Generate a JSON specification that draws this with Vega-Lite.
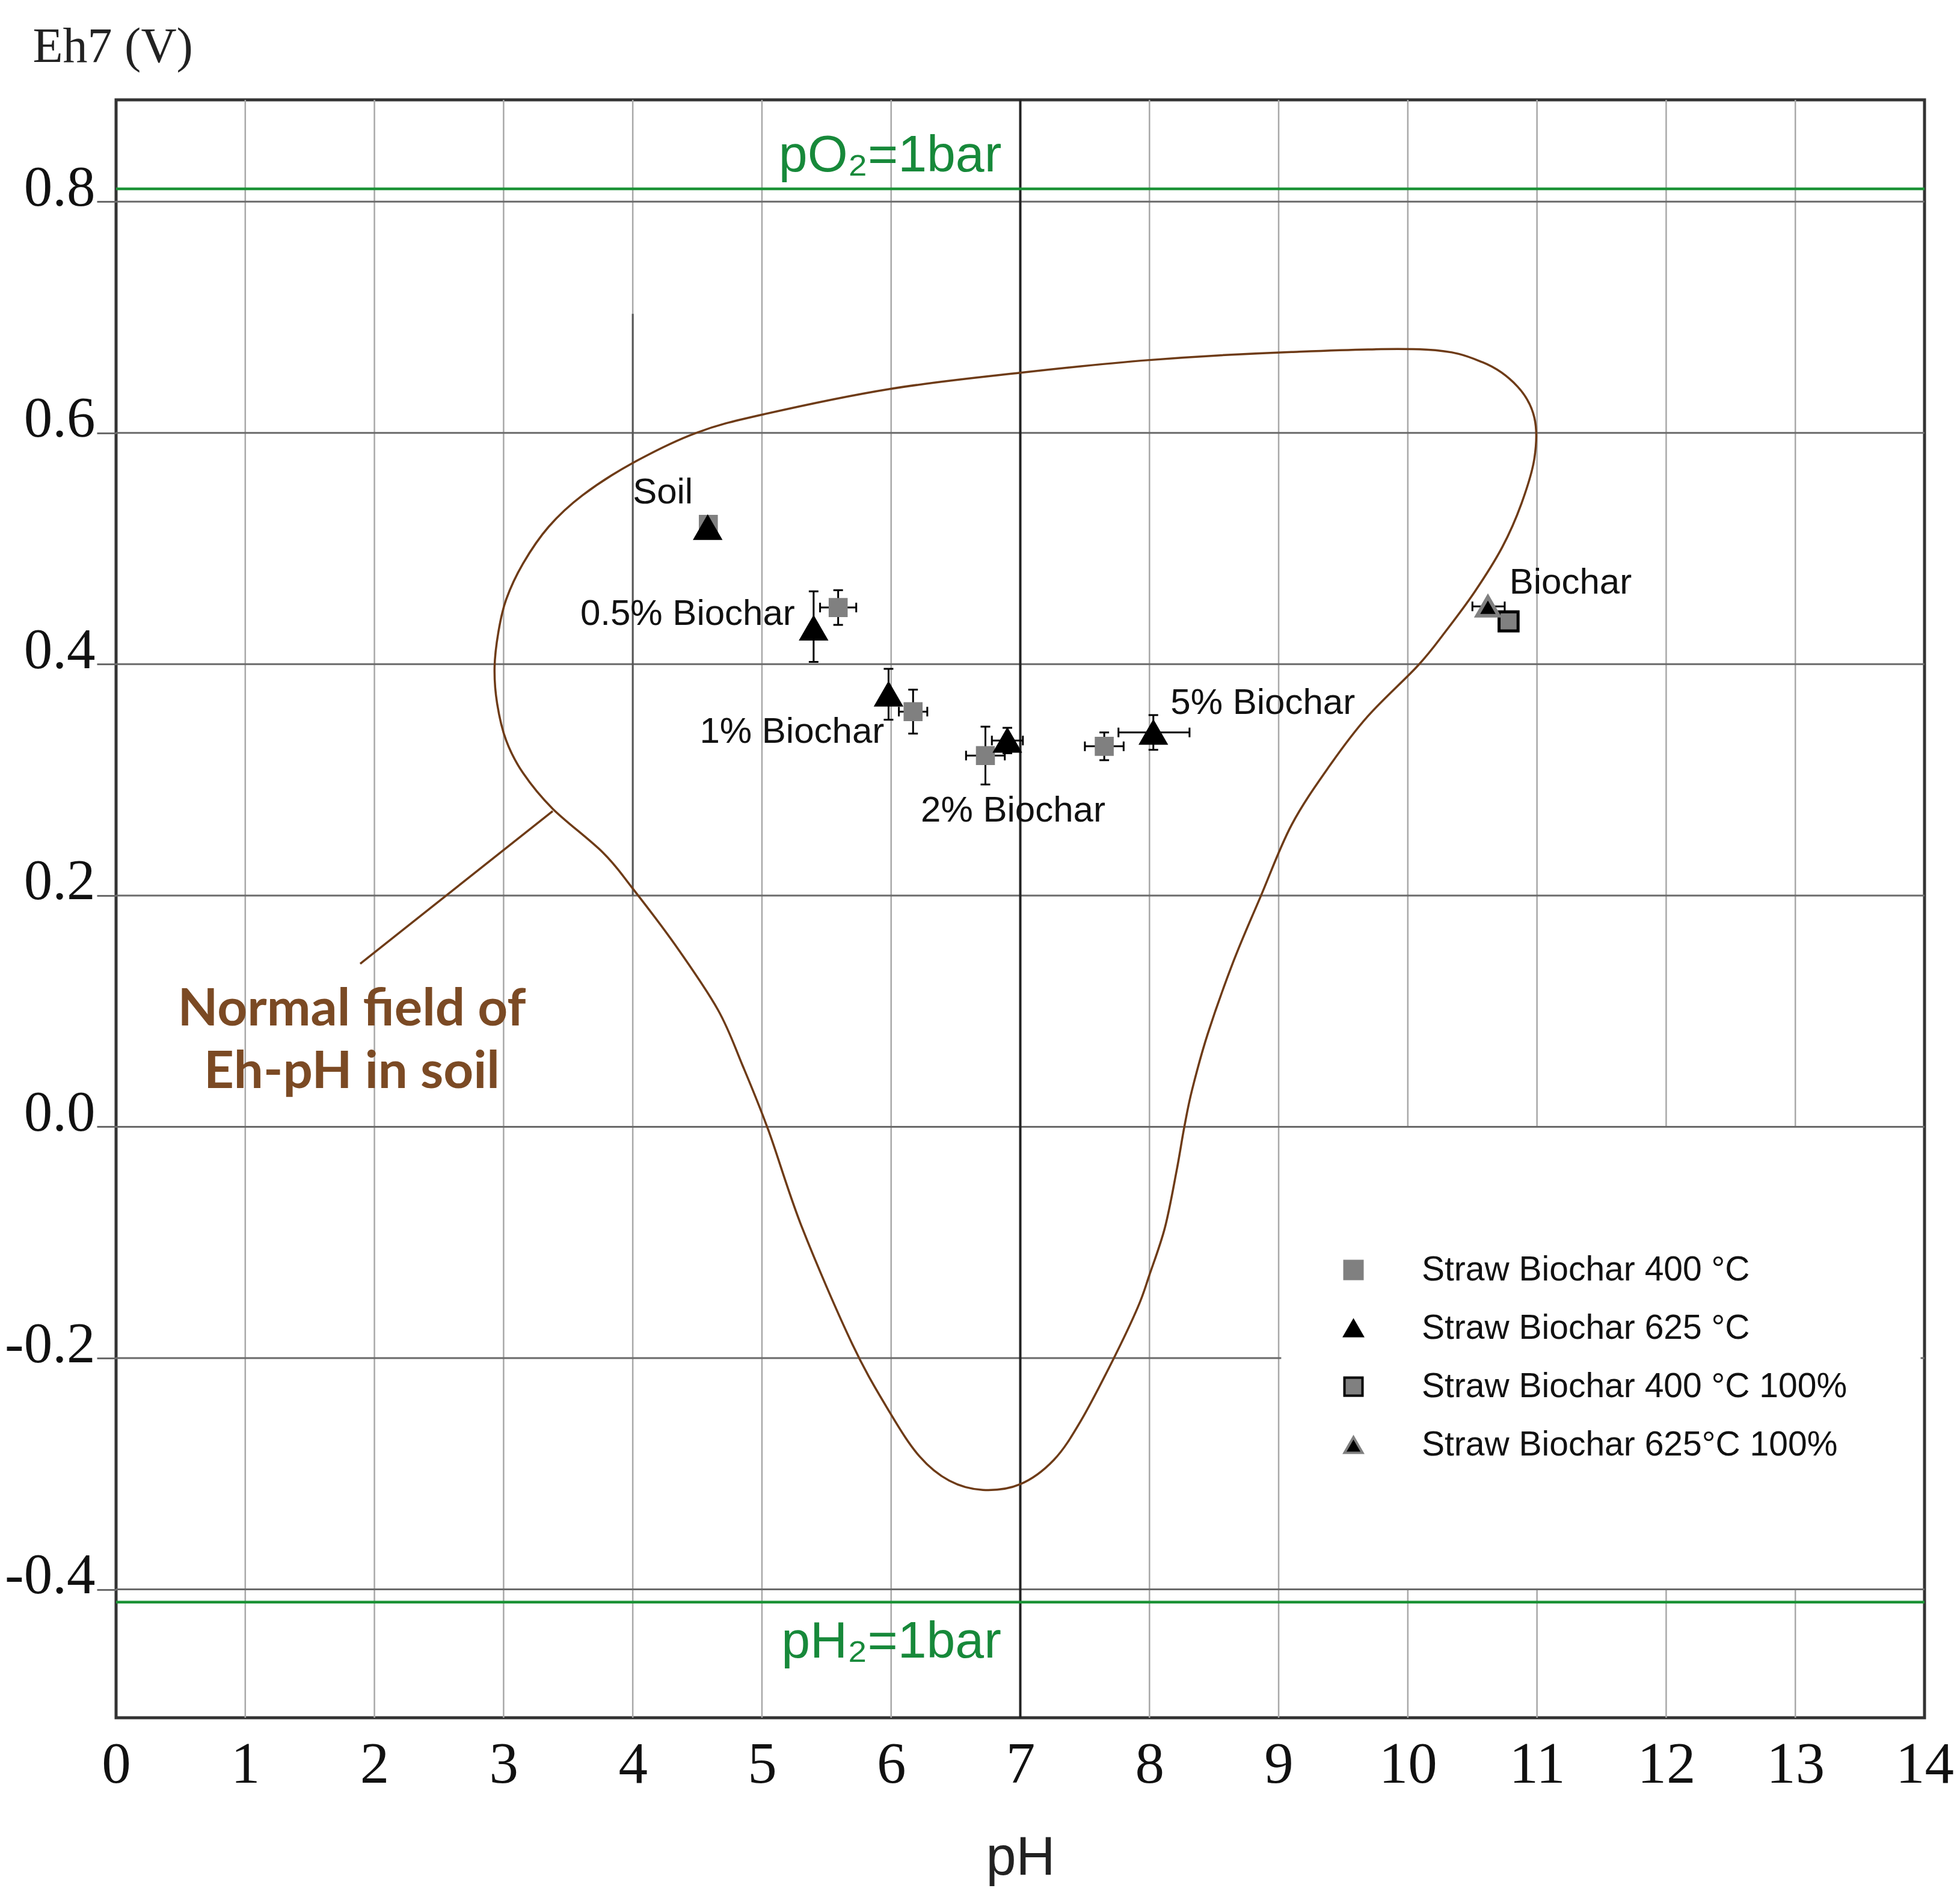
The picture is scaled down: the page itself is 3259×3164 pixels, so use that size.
{
  "$schema": "https://vega.github.io/schema/vega-lite/v6.json",
  "width": 3007,
  "height": 2690,
  "autosize": {"type": "none"},
  "padding": {"left": 193, "top": 166, "right": 59, "bottom": 308},
  "background": "white",
  "datasets": {
    "vgrid": [
      {"pH": 1, "a": -0.511, "b": 0.888},
      {"pH": 2, "a": -0.511, "b": 0.888},
      {"pH": 3, "a": -0.511, "b": 0.888},
      {"pH": 4, "a": -0.511, "b": 0.888},
      {"pH": 5, "a": -0.511, "b": 0.888},
      {"pH": 6, "a": -0.511, "b": 0.888},
      {"pH": 8, "a": -0.511, "b": 0.888},
      {"pH": 9, "a": -0.511, "b": 0.888},
      {"pH": 10, "a": 0.0, "b": 0.888},
      {"pH": 11, "a": 0.0, "b": 0.888},
      {"pH": 12, "a": 0.0, "b": 0.888},
      {"pH": 13, "a": 0.0, "b": 0.888},
      {"pH": 10, "a": -0.511, "b": -0.4},
      {"pH": 11, "a": -0.511, "b": -0.4},
      {"pH": 12, "a": -0.511, "b": -0.4},
      {"pH": 13, "a": -0.511, "b": -0.4}
    ],
    "hgrid": [
      {"Eh": 0.8, "a": 0, "b": 14},
      {"Eh": 0.6, "a": 0, "b": 14},
      {"Eh": 0.4, "a": 0, "b": 14},
      {"Eh": 0.2, "a": 0, "b": 14},
      {"Eh": 0.0, "a": 0, "b": 14},
      {"Eh": -0.2, "a": 0, "b": 9.02},
      {"Eh": -0.2, "a": 13.97, "b": 14},
      {"Eh": -0.4, "a": 0, "b": 14}
    ],
    "curve": [
      {"o": 1, "pH": 2.93, "Eh": 0.397},
      {"o": 2, "pH": 2.96, "Eh": 0.428},
      {"o": 3, "pH": 3.02, "Eh": 0.456},
      {"o": 4, "pH": 3.15, "Eh": 0.487},
      {"o": 5, "pH": 3.35, "Eh": 0.519},
      {"o": 6, "pH": 3.61, "Eh": 0.546},
      {"o": 7, "pH": 4.0, "Eh": 0.574},
      {"o": 8, "pH": 4.49, "Eh": 0.6},
      {"o": 9, "pH": 5.01, "Eh": 0.616},
      {"o": 10, "pH": 5.99, "Eh": 0.638},
      {"o": 11, "pH": 7.0, "Eh": 0.652},
      {"o": 12, "pH": 8.0, "Eh": 0.663},
      {"o": 13, "pH": 9.1, "Eh": 0.67},
      {"o": 14, "pH": 10.14, "Eh": 0.672},
      {"o": 15, "pH": 10.58, "Eh": 0.661},
      {"o": 16, "pH": 10.85, "Eh": 0.64},
      {"o": 17, "pH": 10.98, "Eh": 0.613},
      {"o": 18, "pH": 10.98, "Eh": 0.578},
      {"o": 19, "pH": 10.88, "Eh": 0.539},
      {"o": 20, "pH": 10.73, "Eh": 0.501},
      {"o": 21, "pH": 10.52, "Eh": 0.463},
      {"o": 22, "pH": 10.29, "Eh": 0.428},
      {"o": 23, "pH": 10.08, "Eh": 0.399},
      {"o": 24, "pH": 9.69, "Eh": 0.355},
      {"o": 25, "pH": 9.4, "Eh": 0.313},
      {"o": 26, "pH": 9.1, "Eh": 0.261},
      {"o": 27, "pH": 8.86, "Eh": 0.199},
      {"o": 28, "pH": 8.65, "Eh": 0.143},
      {"o": 29, "pH": 8.45, "Eh": 0.08},
      {"o": 30, "pH": 8.33, "Eh": 0.032},
      {"o": 31, "pH": 8.27, "Eh": 0.0},
      {"o": 32, "pH": 8.21, "Eh": -0.038},
      {"o": 33, "pH": 8.12, "Eh": -0.087},
      {"o": 34, "pH": 8.0, "Eh": -0.128},
      {"o": 35, "pH": 7.91, "Eh": -0.156},
      {"o": 36, "pH": 7.72, "Eh": -0.201},
      {"o": 37, "pH": 7.47, "Eh": -0.254},
      {"o": 38, "pH": 7.26, "Eh": -0.288},
      {"o": 39, "pH": 7.0, "Eh": -0.309},
      {"o": 40, "pH": 6.71, "Eh": -0.314},
      {"o": 41, "pH": 6.45, "Eh": -0.306},
      {"o": 42, "pH": 6.22, "Eh": -0.285},
      {"o": 43, "pH": 5.99, "Eh": -0.247},
      {"o": 44, "pH": 5.7, "Eh": -0.188},
      {"o": 45, "pH": 5.31, "Eh": -0.087},
      {"o": 46, "pH": 5.05, "Eh": -0.003},
      {"o": 47, "pH": 4.85, "Eh": 0.053},
      {"o": 48, "pH": 4.66, "Eh": 0.101},
      {"o": 49, "pH": 4.33, "Eh": 0.157},
      {"o": 50, "pH": 4.0, "Eh": 0.206},
      {"o": 51, "pH": 3.77, "Eh": 0.237},
      {"o": 52, "pH": 3.38, "Eh": 0.275},
      {"o": 53, "pH": 3.15, "Eh": 0.306},
      {"o": 54, "pH": 3.02, "Eh": 0.334},
      {"o": 55, "pH": 2.95, "Eh": 0.366}
    ],
    "err": [
      {"pH": 5.59, "Eh": 0.449, "ylo": 0.434, "yhi": 0.464, "xlo": 5.45, "xhi": 5.73},
      {"pH": 5.4, "Eh": 0.431, "ylo": 0.402, "yhi": 0.463, "xlo": null, "xhi": null},
      {"pH": 5.98, "Eh": 0.374, "ylo": 0.352, "yhi": 0.396, "xlo": null, "xhi": null},
      {"pH": 6.17, "Eh": 0.359, "ylo": 0.34, "yhi": 0.378, "xlo": 6.06, "xhi": 6.28},
      {"pH": 6.73, "Eh": 0.321, "ylo": 0.296, "yhi": 0.346, "xlo": 6.58, "xhi": 6.88},
      {"pH": 6.9, "Eh": 0.334, "ylo": 0.323, "yhi": 0.345, "xlo": 6.78, "xhi": 7.02},
      {"pH": 7.65, "Eh": 0.329, "ylo": 0.317, "yhi": 0.341, "xlo": 7.5, "xhi": 7.8},
      {"pH": 8.03, "Eh": 0.341, "ylo": 0.326, "yhi": 0.356, "xlo": 7.76, "xhi": 8.31},
      {"pH": 10.62, "Eh": 0.45, "ylo": null, "yhi": null, "xlo": 10.5, "xhi": 10.75}
    ],
    "pts": [
      {"pH": 4.585, "Eh": 0.521, "s": "Straw Biochar 400 °C"},
      {"pH": 5.59, "Eh": 0.449, "s": "Straw Biochar 400 °C"},
      {"pH": 6.17, "Eh": 0.359, "s": "Straw Biochar 400 °C"},
      {"pH": 6.73, "Eh": 0.321, "s": "Straw Biochar 400 °C"},
      {"pH": 7.65, "Eh": 0.329, "s": "Straw Biochar 400 °C"},
      {"pH": 10.78, "Eh": 0.437, "s": "Straw Biochar 400 °C 100%"},
      {"pH": 4.58, "Eh": 0.518, "s": "Straw Biochar 625 °C"},
      {"pH": 5.4, "Eh": 0.431, "s": "Straw Biochar 625 °C"},
      {"pH": 5.98, "Eh": 0.374, "s": "Straw Biochar 625 °C"},
      {"pH": 6.9, "Eh": 0.334, "s": "Straw Biochar 625 °C"},
      {"pH": 8.03, "Eh": 0.341, "s": "Straw Biochar 625 °C"},
      {"pH": 10.62, "Eh": 0.45, "s": "Straw Biochar 625°C 100%"}
    ],
    "labels": [
      {"pH": 4.0, "Eh": 0.539, "label": "Soil"},
      {"pH": 3.594, "Eh": 0.434, "label": "0.5% Biochar"},
      {"pH": 4.518, "Eh": 0.332, "label": "1% Biochar"},
      {"pH": 6.23, "Eh": 0.264, "label": "2% Biochar"},
      {"pH": 8.163, "Eh": 0.357, "label": "5% Biochar"},
      {"pH": 10.786, "Eh": 0.461, "label": "Biochar"}
    ]
  },
  "layer": [
    {
      "data": {"name": "vgrid"},
      "mark": {"type": "rule", "color": "#a8a8a8", "strokeWidth": 2.5},
      "encoding": {
        "x": {
          "field": "pH", "type": "quantitative", "title": "pH",
          "scale": {"domain": [0, 14], "nice": false, "zero": false},
          "axis": {"values": [0, 1, 2, 3, 4, 5, 6, 7, 8, 9, 10, 11, 12, 13, 14], "format": "d"}
        },
        "y": {
          "field": "a", "type": "quantitative", "title": "Eh7 (V)",
          "scale": {"domain": [-0.511, 0.888], "nice": false, "zero": false},
          "axis": {
            "values": [-0.4, -0.2, 0, 0.2, 0.4, 0.6, 0.8],
            "labelExpr": "replace(format(datum.value, '.1f'), '\u2212', '-')"
          }
        },
        "y2": {"field": "b"}
      }
    },
    {
      "data": {"name": "hgrid"},
      "mark": {"type": "rule", "color": "#6a6a6a", "strokeWidth": 3},
      "encoding": {
        "x": {"field": "a", "type": "quantitative", "title": "pH"},
        "x2": {"field": "b"},
        "y": {"field": "Eh", "type": "quantitative", "title": "Eh7 (V)"}
      }
    },
    {
      "data": {"values": [{"pH": 4, "Eh": 0.2, "Eh2": 0.703}]},
      "mark": {"type": "rule", "color": "#555555", "strokeWidth": 3},
      "encoding": {
        "x": {"field": "pH", "type": "quantitative", "title": "pH"},
        "y": {"field": "Eh", "type": "quantitative", "title": "Eh7 (V)"},
        "y2": {"field": "Eh2"}
      }
    },
    {
      "data": {"values": [{"pH": 7}]},
      "mark": {"type": "rule", "color": "#222222", "strokeWidth": 4},
      "encoding": {"x": {"field": "pH", "type": "quantitative", "title": "pH"}}
    },
    {
      "data": {"values": [{"Eh": 0.811}, {"Eh": -0.411}]},
      "mark": {"type": "rule", "color": "#1b9236", "strokeWidth": 4.5},
      "encoding": {"y": {"field": "Eh", "type": "quantitative", "title": "Eh7 (V)"}}
    },
    {
      "data": {"name": "curve"},
      "mark": {"type": "line", "color": "#6e3b17", "strokeWidth": 3.5, "interpolate": "cardinal-closed"},
      "encoding": {
        "x": {"field": "pH", "type": "quantitative", "title": "pH"},
        "y": {"field": "Eh", "type": "quantitative", "title": "Eh7 (V)"},
        "order": {"field": "o"}
      }
    },
    {
      "data": {"values": [{"o": 1, "pH": 3.38, "Eh": 0.273}, {"o": 2, "pH": 1.89, "Eh": 0.141}]},
      "mark": {"type": "line", "color": "#6e3b17", "strokeWidth": 3.5},
      "encoding": {
        "x": {"field": "pH", "type": "quantitative", "title": "pH"},
        "y": {"field": "Eh", "type": "quantitative", "title": "Eh7 (V)"},
        "order": {"field": "o"}
      }
    },
    {
      "data": {"name": "err"},
      "transform": [{"filter": "isValid(datum.ylo)"}],
      "mark": {"type": "rule", "color": "#000000", "strokeWidth": 3},
      "encoding": {
        "x": {"field": "pH", "type": "quantitative", "title": "pH"},
        "y": {"field": "ylo", "type": "quantitative", "title": "Eh7 (V)"},
        "y2": {"field": "yhi"}
      }
    },
    {
      "data": {"name": "err"},
      "transform": [
        {"filter": "isValid(datum.ylo)"},
        {"fold": ["ylo", "yhi"], "as": ["k", "v"]}
      ],
      "mark": {"type": "tick", "orient": "horizontal", "color": "#000000", "size": 16, "thickness": 3, "opacity": 1},
      "encoding": {
        "x": {"field": "pH", "type": "quantitative", "title": "pH"},
        "y": {"field": "v", "type": "quantitative", "title": "Eh7 (V)"}
      }
    },
    {
      "data": {"name": "err"},
      "transform": [{"filter": "isValid(datum.xlo)"}],
      "mark": {"type": "rule", "color": "#000000", "strokeWidth": 3},
      "encoding": {
        "x": {"field": "xlo", "type": "quantitative", "title": "pH"},
        "x2": {"field": "xhi"},
        "y": {"field": "Eh", "type": "quantitative", "title": "Eh7 (V)"}
      }
    },
    {
      "data": {"name": "err"},
      "transform": [
        {"filter": "isValid(datum.xlo)"},
        {"fold": ["xlo", "xhi"], "as": ["k", "v"]}
      ],
      "mark": {"type": "tick", "orient": "vertical", "color": "#000000", "size": 16, "thickness": 3, "opacity": 1},
      "encoding": {
        "x": {"field": "v", "type": "quantitative", "title": "pH"},
        "y": {"field": "Eh", "type": "quantitative", "title": "Eh7 (V)"}
      }
    },
    {
      "data": {"name": "pts"},
      "transform": [{"filter": "datum.s == 'Straw Biochar 400 °C'"}],
      "mark": {"type": "point", "filled": true, "opacity": 1, "strokeWidth": 4, "size": 760},
      "encoding": {
        "x": {"field": "pH", "type": "quantitative", "title": "pH"},
        "y": {"field": "Eh", "type": "quantitative", "title": "Eh7 (V)"},
        "shape": {
          "field": "s", "type": "nominal", "title": null,
          "scale": {
            "domain": ["Straw Biochar 400 °C", "Straw Biochar 625 °C", "Straw Biochar 400 °C 100%", "Straw Biochar 625°C 100%"],
            "range": ["square", "triangle-up", "square", "triangle-up"]
          }
        },
        "fill": {
          "field": "s", "type": "nominal", "title": null,
          "scale": {
            "domain": ["Straw Biochar 400 °C", "Straw Biochar 625 °C", "Straw Biochar 400 °C 100%", "Straw Biochar 625°C 100%"],
            "range": ["#808080", "#000000", "#808080", "#000000"]
          }
        },
        "stroke": {
          "field": "s", "type": "nominal", "title": null,
          "scale": {
            "domain": ["Straw Biochar 400 °C", "Straw Biochar 625 °C", "Straw Biochar 400 °C 100%", "Straw Biochar 625°C 100%"],
            "range": ["#808080", "#000000", "#000000", "#808080"]
          }
        }
      }
    },
    {
      "data": {"name": "pts"},
      "transform": [{"filter": "datum.s == 'Straw Biochar 400 °C 100%'"}],
      "mark": {"type": "point", "filled": true, "opacity": 1, "strokeWidth": 5, "size": 1000},
      "encoding": {
        "x": {"field": "pH", "type": "quantitative", "title": "pH"},
        "y": {"field": "Eh", "type": "quantitative", "title": "Eh7 (V)"},
        "shape": {"field": "s", "type": "nominal", "title": null},
        "fill": {"field": "s", "type": "nominal", "title": null},
        "stroke": {"field": "s", "type": "nominal", "title": null}
      }
    },
    {
      "data": {"name": "pts"},
      "transform": [{"filter": "datum.s == 'Straw Biochar 625 °C'"}],
      "mark": {"type": "point", "filled": true, "opacity": 1, "strokeWidth": 4, "size": 1800},
      "encoding": {
        "x": {"field": "pH", "type": "quantitative", "title": "pH"},
        "y": {"field": "Eh", "type": "quantitative", "title": "Eh7 (V)"},
        "shape": {"field": "s", "type": "nominal", "title": null},
        "fill": {"field": "s", "type": "nominal", "title": null},
        "stroke": {"field": "s", "type": "nominal", "title": null}
      }
    },
    {
      "data": {"name": "pts"},
      "transform": [{"filter": "datum.s == 'Straw Biochar 625°C 100%'"}],
      "mark": {"type": "point", "filled": true, "opacity": 1, "strokeWidth": 6, "size": 1300},
      "encoding": {
        "x": {"field": "pH", "type": "quantitative", "title": "pH"},
        "y": {"field": "Eh", "type": "quantitative", "title": "Eh7 (V)"},
        "shape": {"field": "s", "type": "nominal", "title": null},
        "fill": {"field": "s", "type": "nominal", "title": null},
        "stroke": {"field": "s", "type": "nominal", "title": null}
      }
    },
    {
      "data": {"name": "labels"},
      "mark": {"type": "text", "align": "left", "baseline": "alphabetic", "font": "Liberation Sans", "fontSize": 60, "color": "#111111"},
      "encoding": {
        "x": {"field": "pH", "type": "quantitative", "title": "pH"},
        "y": {"field": "Eh", "type": "quantitative", "title": "Eh7 (V)"},
        "text": {"field": "label"}
      }
    },
    {
      "data": {"values": [{"pH": 5.13, "Eh": 0.826, "label": "pO₂=1bar"}, {"pH": 5.15, "Eh": -0.459, "label": "pH₂=1bar"}]},
      "mark": {"type": "text", "align": "left", "baseline": "alphabetic", "font": "Liberation Sans", "fontSize": 86, "color": "#17893a"},
      "encoding": {
        "x": {"field": "pH", "type": "quantitative", "title": "pH"},
        "y": {"field": "Eh", "type": "quantitative", "title": "Eh7 (V)"},
        "text": {"field": "label"}
      }
    },
    {
      "data": {"values": [{"pH": 1.825, "Eh": 0.0875, "label": "Normal field of\nEh-pH in soil"}]},
      "mark": {"type": "text", "align": "center", "baseline": "alphabetic", "font": "Lato", "fontWeight": "bold", "fontSize": 87, "lineHeight": 104, "lineBreak": "\n", "color": "#7b4a24"},
      "encoding": {
        "x": {"field": "pH", "type": "quantitative", "title": "pH"},
        "y": {"field": "Eh", "type": "quantitative", "title": "Eh7 (V)"},
        "text": {"field": "label"}
      }
    }
  ],
  "config": {
    "view": {"stroke": "#333333", "strokeWidth": 5},
    "axis": {
      "domain": false,
      "grid": false,
      "labelFont": "Liberation Serif",
      "labelColor": "#111111",
      "titleColor": "#222222",
      "titleFontWeight": "normal"
    },
    "axisX": {
      "ticks": false,
      "tickSize": 0,
      "labelFontSize": 97,
      "labelPadding": 30,
      "labelFlush": false,
      "labelOverlap": false,
      "titleFont": "Liberation Sans",
      "titleFontSize": 90,
      "titleY": 260,
      "titleBaseline": "alphabetic"
    },
    "axisY": {
      "tickColor": "#6a6a6a",
      "tickWidth": 3,
      "tickSize": 32,
      "labelFontSize": 95,
      "labelPadding": 3,
      "labelBaseline": "alphabetic",
      "labelOffset": 6,
      "labelOverlap": false,
      "titleFont": "Liberation Serif",
      "titleFontSize": 82,
      "titleAngle": 0,
      "titleAlign": "left",
      "titleBaseline": "alphabetic",
      "titleX": -139,
      "titleY": -64
    },
    "legend": {
      "orient": "none",
      "legendX": 2029,
      "legendY": 1917,
      "zindex": 2,
      "labelFont": "Liberation Sans",
      "labelFontSize": 57,
      "labelColor": "#111111",
      "symbolSize": 900,
      "symbolStrokeWidth": 4,
      "labelOffset": 85,
      "rowPadding": 39,
      "labelLimit": 0
    }
  }
}
